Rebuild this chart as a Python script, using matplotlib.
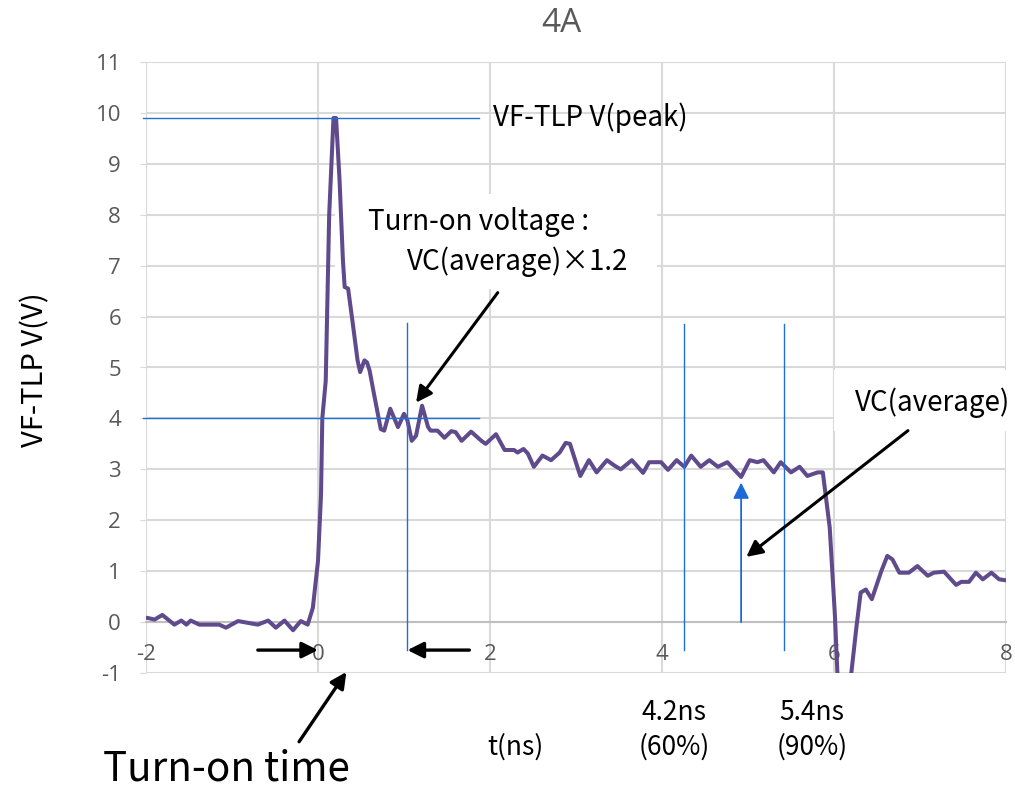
import matplotlib
matplotlib.use("Agg")
import matplotlib.pyplot as plt

plt.rcParams["font.family"] = ["Noto Sans CJK JP", "DejaVu Sans"]
plt.rcParams["axes.unicode_minus"] = False

# --- waveform (t in ns, V in volts) ---
t_ns = [
    -1.98, -1.90, -1.81, -1.67, -1.59, -1.53, -1.48, -1.38, -1.15, -1.07,
    -0.93, -0.70, -0.58, -0.49, -0.39, -0.29, -0.20, -0.12, -0.06, 0.00,
    0.035, 0.05, 0.09, 0.13, 0.18, 0.21, 0.25, 0.29, 0.31, 0.35,
    0.40, 0.46, 0.49, 0.54, 0.57, 0.60, 0.65, 0.73, 0.77, 0.84,
    0.93, 1.00, 1.04, 1.09, 1.14, 1.21, 1.28, 1.31, 1.39, 1.47,
    1.55, 1.60, 1.67, 1.78, 1.90, 1.95, 2.07, 2.17, 2.28, 2.32,
    2.39, 2.44, 2.51, 2.61, 2.71, 2.81, 2.88, 2.93, 3.05, 3.15,
    3.24, 3.36, 3.45, 3.52, 3.65, 3.78, 3.85, 3.99, 4.07, 4.17,
    4.26, 4.34, 4.45, 4.55, 4.65, 4.76, 4.82, 4.92, 5.02, 5.11,
    5.18, 5.30, 5.38, 5.50, 5.60, 5.69, 5.81, 5.87, 5.95, 6.01,
    6.04, 6.12, 6.20, 6.26, 6.31, 6.37, 6.44, 6.55, 6.62, 6.68,
    6.76, 6.87, 6.97, 7.09, 7.16, 7.28, 7.42, 7.48, 7.57, 7.65,
    7.73, 7.83, 7.92, 8.04,
]
v_volt = [
    0.08, 0.05, 0.14, -0.05, 0.03, -0.05, 0.03, -0.05, -0.05, -0.11,
    0.02, -0.05, 0.03, -0.11, 0.03, -0.16, 0.02, -0.05, 0.28, 1.20,
    2.50, 4.00, 4.74, 8.00, 9.90, 9.90, 8.70, 7.10, 6.58, 6.55,
    5.92, 5.14, 4.91, 5.14, 5.10, 4.94, 4.49, 3.79, 3.76, 4.19,
    3.83, 4.09, 3.96, 3.56, 3.66, 4.25, 3.83, 3.76, 3.76, 3.62,
    3.75, 3.73, 3.56, 3.74, 3.56, 3.50, 3.69, 3.38, 3.38, 3.33,
    3.40, 3.31, 3.05, 3.27, 3.18, 3.33, 3.52, 3.50, 2.87, 3.18,
    2.94, 3.18, 3.07, 3.00, 3.18, 2.93, 3.14, 3.14, 2.99, 3.18,
    3.05, 3.27, 3.05, 3.18, 3.05, 3.14, 3.03, 2.85, 3.18, 3.14,
    3.18, 2.94, 3.14, 2.94, 3.05, 2.87, 2.94, 2.94, 1.86, 0.15,
    -1.02, -1.60, -1.02, -0.11, 0.58, 0.64, 0.45, 1.00, 1.30, 1.23,
    0.97, 0.97, 1.10, 0.91, 0.97, 0.99, 0.73, 0.79, 0.79, 0.97,
    0.84, 0.97, 0.84, 0.81,
]

x_ticks = [-2, 0, 2, 4, 6, 8]
y_ticks = list(range(-1, 12))

v_peak = 9.9
v_turn_on = 4.0
t_turn_on = 1.04
t_60 = 4.25
t_90 = 5.42

purple = "#5f4a8b"
blue = "#1f6fd6"
grey_txt = "#595959"
grid_c = "#d9d9d9"

fig = plt.figure(figsize=(10.15, 7.9), dpi=100)
ax = fig.add_axes([146 / 1015, 117 / 790, 860 / 1015, 611 / 790])

ax.set_xlim(-2, 8)
ax.set_ylim(-1, 11)
ax.set_xticks(x_ticks)
ax.set_yticks(y_ticks)
ax.grid(True, color=grid_c, lw=1.5, zorder=0)
ax.set_axisbelow(True)
for side in ["top", "right", "left"]:
    ax.spines[side].set_visible(False)
ax.spines["bottom"].set_position(("data", 0))
ax.spines["bottom"].set_color("#bfbfbf")
ax.spines["bottom"].set_linewidth(1.5)
ax.tick_params(axis="x", length=0, pad=16, labelsize=16, labelcolor=grey_txt)
ax.tick_params(axis="y", length=4, color=grid_c, pad=14, labelsize=16,
               labelcolor=grey_txt)
for lab in ax.get_xticklabels() + ax.get_yticklabels():
    lab.set_family(["Open Sans", "DejaVu Sans"])

ax.plot(t_ns, v_volt, color=purple, lw=2.9, zorder=3, solid_joinstyle="round")

# reference lines
ax.plot([-2.03, 1.87], [v_peak, v_peak], color=blue, lw=1, zorder=4, clip_on=False)
ax.plot([-2.03, 1.87], [v_turn_on, v_turn_on], color=blue, lw=1, zorder=4,
        clip_on=False)
ax.plot([t_turn_on, t_turn_on], [-0.55, 5.87], color=blue, lw=1, zorder=4)
ax.plot([t_60, t_60], [-0.55, 5.85], color=blue, lw=1, zorder=4)
ax.plot([t_90, t_90], [-0.55, 5.85], color=blue, lw=1, zorder=4)

ax.text(2.03, v_peak, "VF-TLP V(peak)", fontsize=20, va="center", ha="left",
        zorder=6)

# turn-on voltage note
ax.fill_between([0.2, 3.94], 6.55, 8.41, color="white", zorder=2, lw=0)
ax.text(0.58, 7.86, "Turn-on voltage :", fontsize=20, va="center", ha="left",
        zorder=6)
ax.text(1.03, 7.08, "VC(average)\u00d71.2", fontsize=20, va="center",
        ha="left", zorder=6)
ax.annotate("", xy=(1.14, 4.31), xytext=(2.09, 6.47),
            arrowprops=dict(arrowstyle="-|>", color="black", lw=2.2,
                            mutation_scale=24, shrinkA=0, shrinkB=0), zorder=7)

# turn-on time arrows
arrow_kw = dict(arrowstyle="-|>", color="black", lw=2.4, mutation_scale=24,
                shrinkA=0, shrinkB=0)
ax.annotate("", xy=(0.0, -0.55), xytext=(-0.70, -0.55), arrowprops=arrow_kw,
            zorder=7)
ax.annotate("", xy=(t_turn_on, -0.55), xytext=(1.76, -0.55),
            arrowprops=arrow_kw, zorder=7)
ax.annotate("", xy=(0.33, -0.98), xytext=(-0.22, -2.35), arrowprops=arrow_kw,
            annotation_clip=False, zorder=7)

# VC(average) note
ax.fill_between([6.0, 8.0], 3.76, 4.95, color="white", zorder=2, lw=0)
ax.text(6.24, 4.31, "VC(average)", fontsize=20, va="center", ha="left",
        zorder=6)
ax.annotate("", xy=(4.98, 1.28), xytext=(6.86, 3.76),
            arrowprops=dict(arrowstyle="-|>", color="black", lw=2.2,
                            mutation_scale=24, shrinkA=0, shrinkB=0), zorder=7)
ax.annotate("", xy=(4.92, 2.74), xytext=(4.92, 0.0),
            arrowprops=dict(arrowstyle="-|>", color="#1a6ad8", lw=1.3,
                            mutation_scale=24, shrinkA=0, shrinkB=0), zorder=7)

# labels outside the axes
fig.text(561 / 1015, 1 - 24 / 790, "4A", fontsize=24, color=grey_txt,
         ha="center", va="center", family=["Open Sans", "DejaVu Sans"])
fig.text(35 / 1015, 1 - 370 / 790, "VF-TLP V(V)", fontsize=21, rotation=90,
         ha="center", va="center")
fig.text(515 / 1015, 1 - 747 / 790, "t(ns)", fontsize=19, ha="center",
         va="center")
fig.text(674 / 1015, 1 - 730 / 790, "4.2ns\n(60%)", fontsize=19,
         ha="center", va="center", linespacing=1.35)
fig.text(812 / 1015, 1 - 730 / 790, "5.4ns\n(90%)", fontsize=19,
         ha="center", va="center", linespacing=1.35)
fig.text(103 / 1015, 1 - 769 / 790, "Turn-on time", fontsize=29, ha="left",
         va="center")

fig.savefig("out.png", dpi=100)
